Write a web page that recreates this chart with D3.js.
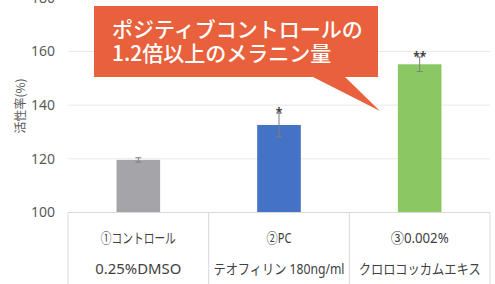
<!DOCTYPE html>
<html>
<head>
<meta charset="utf-8">
<script src="https://cdn.jsdelivr.net/npm/d3@7"></script>
<style>
  body { margin: 0; background: #fff; }
  svg { display: block; font-family: "Noto Sans", "Noto Sans CJK JP", sans-serif; }
</style>
</head>
<body>
<svg id="chart" width="495" height="284"></svg>
<script>
// data
const groups = ["①コントロール", "②PC", "③0.002%"];
const subLabels = ["0.25%DMSO", "テオフィリン 180ng/ml", "クロロコッカムエキス"];
const values = [119.6, 132.6, 155.2];
const errors = [0.8, 4.4, 2.7];
const marks = ["", "*", "**"];
const yTicks = [100, 120, 140, 160, 180];
const yLabel = "活性率(%)";
const callout = ["ポジティブコントロールの", "1.2倍以上のメラニン量"];

const colors = ["#a5a5a9", "#4472c4", "#8bc863"];
const subWidths = [86, 131, 122];
const groupWidths = [75, 25, 58];

const svg = d3.select("#chart");
const left = 68, right = 490, base = 212.5;

const y = d3.scaleLinear().domain([100, 180]).range([base, base - 4 * 53.7]);
const x = d3.scaleBand().domain(groups).range([left, right]).padding(0);
const barW = x.bandwidth() * 0.31;

// gridlines
svg.append("g")
  .selectAll("line")
  .data(yTicks.filter(t => t > 100))
  .join("line")
  .attr("x1", left).attr("x2", right)
  .attr("y1", d => y(d)).attr("y2", d => y(d))
  .attr("stroke", "#e8e8e8").attr("stroke-width", 1);

// y axis labels
const yAxis = svg.append("g")
  .attr("transform", `translate(${left},0)`)
  .call(d3.axisLeft(y).tickValues(yTicks).tickSize(0).tickPadding(13));
yAxis.select(".domain").remove();
yAxis.selectAll("text")
  .attr("font-size", "14px")
  .attr("font-family", "'Noto Sans', sans-serif")
  .attr("fill", "#595959");

svg.append("text")
  .attr("transform", `translate(21,${106}) rotate(-90)`)
  .attr("text-anchor", "middle")
  .attr("dy", "0.35em")
  .attr("font-size", "12px")
  .attr("font-family", "'Noto Sans CJK JP', sans-serif")
  .attr("fill", "#595959")
  .text(yLabel);

// bars
svg.append("g")
  .selectAll("rect")
  .data(groups)
  .join("rect")
  .attr("x", d => x(d) + (x.bandwidth() - barW) / 2)
  .attr("width", barW)
  .attr("y", (d, i) => y(values[i]))
  .attr("height", (d, i) => base - y(values[i]))
  .attr("fill", (d, i) => colors[i]);

// error bars
const eb = svg.append("g").attr("stroke", "#7f7f7f").attr("stroke-width", 1);
groups.forEach((g, i) => {
  const cx = x(g) + x.bandwidth() / 2;
  const t = y(values[i] + errors[i]), b = y(values[i] - errors[i]);
  eb.append("line").attr("x1", cx).attr("x2", cx).attr("y1", t).attr("y2", b);
  eb.append("line").attr("x1", cx - 3).attr("x2", cx + 3).attr("y1", t).attr("y2", t);
  eb.append("line").attr("x1", cx - 3).attr("x2", cx + 3).attr("y1", b).attr("y2", b);
});

// significance marks
svg.append("g")
  .selectAll("text")
  .data(groups)
  .join("text")
  .attr("x", d => x(d) + x.bandwidth() / 2)
  .attr("y", (d, i) => y(values[i] + errors[i]) + 4)
  .attr("text-anchor", "middle")
  .attr("font-size", "12px")
  .attr("font-weight", "bold")
  .attr("fill", "#404040")
  .text((d, i) => marks[i]);

// table under the axis
const tbl = svg.append("g");
tbl.append("line")
  .attr("x1", left).attr("x2", right).attr("y1", base).attr("y2", base)
  .attr("stroke", "#d9d9d9");
tbl.selectAll("line.v")
  .data([...groups.map(g => x(g)), right])
  .join("line")
  .attr("class", "v")
  .attr("x1", d => d).attr("x2", d => d)
  .attr("y1", base).attr("y2", 284)
  .attr("stroke", "#d9d9d9");

tbl.selectAll("text.g")
  .data(groups)
  .join("text")
  .attr("class", "g")
  .attr("x", d => x(d) + x.bandwidth() / 2)
  .attr("y", 243)
  .attr("text-anchor", "middle")
  .attr("font-size", "14px")
  .attr("textLength", (d, i) => groupWidths[i])
  .attr("lengthAdjust", "spacingAndGlyphs")
  .attr("fill", "#404040")
  .text(d => d);

tbl.selectAll("text.s")
  .data(subLabels)
  .join("text")
  .attr("class", "s")
  .attr("x", (d, i) => x(groups[i]) + x.bandwidth() / 2)
  .attr("y", 274)
  .attr("text-anchor", "middle")
  .attr("font-size", "14px")
  .attr("textLength", (d, i) => subWidths[i])
  .attr("lengthAdjust", "spacingAndGlyphs")
  .attr("fill", "#404040")
  .text(d => d);

// callout
const co = svg.append("g");
co.append("path")
  .attr("d", "M94,6 H378 V77 H345 L380,111 L313,77 H94 Z")
  .attr("fill", "#e8603c");
co.selectAll("text")
  .data(callout)
  .join("text")
  .attr("x", 112)
  .attr("y", (d, i) => 37 + i * 24)
  .attr("font-size", "21px")
  .attr("font-family", "'Noto Sans CJK JP', sans-serif")
  .attr("font-weight", "500")
  .attr("fill", "#fff")
  .text(d => d);
</script>
</body>
</html>
